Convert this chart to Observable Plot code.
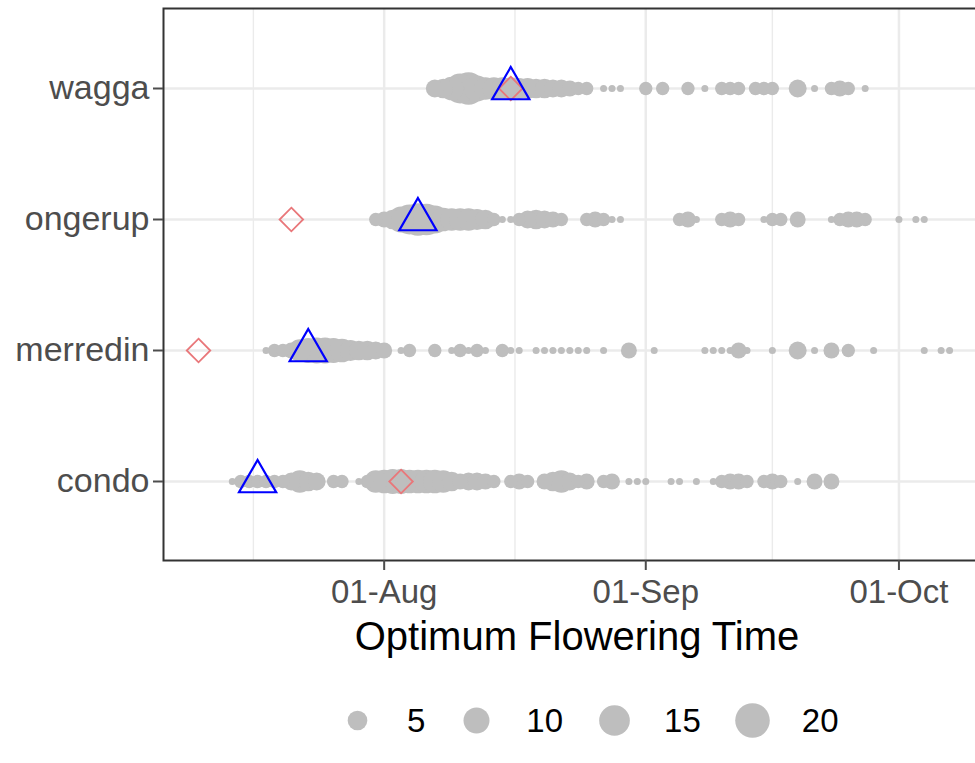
<!DOCTYPE html>
<html><head><meta charset="utf-8">
<script src="https://cdn.jsdelivr.net/npm/d3@7"></script>
<script src="https://cdn.jsdelivr.net/npm/@observablehq/plot@0.6"></script>
<style>
html,body{margin:0;padding:0;background:#fff;overflow:hidden;width:975px;height:763px;}
#chart svg{display:block;overflow:hidden;}
#legend{position:absolute;left:326px;top:689px;display:flex;align-items:center;font-family:"Liberation Sans",Arial,sans-serif;font-size:33px;color:#000;}
#legend .item{display:flex;align-items:center;margin-right:20px}
#legend .item svg{display:block}
#legend .lab{margin-left:19px;line-height:1}
</style></head><body>
<div id="chart"></div><div id="legend"></div>
<script>
const YEAR = 2021;
const sites = ["wagga", "ongerup", "merredin", "condo"];

const waggaDates = ["08-07","08-08","08-09","08-10","08-11","08-12","08-13","08-14","08-15","08-16","08-17","08-18","08-19","08-20","08-21","08-22","08-23","08-24","08-25","08-27","08-28","08-29","09-01","09-03","09-06","09-08","09-10","09-11","09-12","09-14","09-15","09-16","09-19","09-21","09-23","09-24","09-25","09-27"];
const waggaCounts = [4,5,8,14,17,10,7,7,7,7,6,6,5,5,4,4,3,2,2,1,1,1,2,2,2,1,2,2,2,2,2,2,4,1,2,3,2,1];

const ongerupDates = ["07-31","08-01","08-02","08-03","08-04","08-05","08-06","08-07","08-08","08-09","08-10","08-11","08-12","08-13","08-14","08-15","08-16","08-17","08-18","08-19","08-20","08-21","08-22","08-25","08-26","08-27","08-28","08-29","09-05","09-06","09-07","09-10","09-11","09-12","09-15","09-16","09-17","09-19","09-23","09-24","09-25","09-26","09-27","10-01","10-03","10-04"];
const ongerupCounts = [2,3,5,10,14,17,16,12,8,7,7,7,6,5,2,1,1,2,4,5,4,3,2,2,3,2,1,1,2,3,1,2,3,2,1,2,2,3,1,2,3,3,2,1,1,1];

const merredinDates = ["07-18","07-19","07-20","07-21","07-22","07-23","07-24","07-25","07-26","07-27","07-28","07-29","07-30","07-31","08-01","08-03","08-04","08-07","08-09","08-10","08-11","08-12","08-13","08-15","08-16","08-17","08-19","08-20","08-21","08-22","08-23","08-24","08-25","08-27","08-30","09-02","09-08","09-09","09-10","09-11","09-12","09-13","09-16","09-19","09-21","09-23","09-25","09-28","10-04","10-06","10-07"];
const merredinCounts = [1,2,2,3,7,9,10,10,9,8,6,5,5,4,3,1,2,2,1,2,1,2,1,2,1,1,1,1,1,1,1,1,1,1,3,1,1,1,1,1,3,1,1,4,1,3,2,1,1,1,1];

const condoDates = ["07-14","07-15","07-16","07-17","07-18","07-19","07-20","07-21","07-22","07-23","07-24","07-26","07-27","07-29","07-30","07-31","08-01","08-02","08-03","08-04","08-05","08-06","08-07","08-08","08-09","08-10","08-11","08-12","08-13","08-14","08-16","08-17","08-18","08-20","08-21","08-22","08-23","08-24","08-25","08-27","08-28","08-30","08-31","09-01","09-04","09-05","09-07","09-09","09-10","09-11","09-12","09-13","09-15","09-16","09-17","09-19","09-21","09-23"];
const condoCounts = [1,2,2,2,2,2,2,4,7,5,4,2,2,1,2,7,8,9,9,8,8,8,8,7,5,3,4,4,3,2,2,3,2,3,5,7,4,2,3,2,3,1,1,1,1,1,1,1,2,3,3,2,2,3,2,1,3,3];

// open blue triangles and open red diamonds, one per site (same order as sites)
const triangleDates = ["08-16","08-05","07-23","07-17"];
const diamondDates  = ["08-16","07-21","07-10","08-03"];

const monthStarts = ["07-01","08-01","09-01","10-01","11-01"];
const sizeBreaks = [5, 10, 15, 20];
const sizeRange = [1, 22];
const xTitle = "Optimum Flowering Time";

const FONT = '"Liberation Sans", Arial, Helvetica, sans-serif';
const toDate = s => new Date(`${YEAR}-${s}T00:00:00Z`);

const seriesDates = {wagga: waggaDates, ongerup: ongerupDates, merredin: merredinDates, condo: condoDates};
const seriesCounts = {wagga: waggaCounts, ongerup: ongerupCounts, merredin: merredinCounts, condo: condoCounts};
const points = sites.flatMap(site => seriesDates[site].map((d, i) => ({site, date: toDate(d), count: seriesCounts[site][i]})));
const triangles = sites.map((site, i) => ({site, date: toDate(triangleDates[i])}));
const diamonds = sites.map((site, i) => ({site, date: toDate(diamondDates[i])}));

const xStart = new Date(Date.UTC(YEAR, 6, 5, 20, 24));
const xEnd = new Date(Date.UTC(YEAR, 9, 11, 20, 24));
const inDomain = d => d >= xStart && d <= xEnd;
const months = monthStarts.map(toDate);
const majorTicks = months.filter(inDomain);
const minorTicks = d3.pairs(months).map(([a, b]) => new Date((+a + +b) / 2)).filter(inDomain);

const rOpts = {
  type: "linear",
  transform: v => Math.sqrt((v - sizeRange[0]) / (sizeRange[1] - sizeRange[0])),
  domain: [0, 1],
  range: [3.5, 18]
};

const chart = Plot.plot({
  width: 975,
  height: 665,
  marginTop: 8,
  marginBottom: 105,
  marginLeft: 163,
  marginRight: -15,
  style: {fontFamily: FONT, background: "white"},
  x: {type: "utc", domain: [xStart, xEnd]},
  y: {type: "point", domain: sites, padding: 0.6},
  r: rOpts,
  marks: [
    Plot.ruleX(minorTicks, {stroke: "#ebebeb", strokeWidth: 1.4}),
    Plot.ruleX(majorTicks, {stroke: "#ebebeb", strokeWidth: 2.5}),
    Plot.ruleY(sites, {stroke: "#ebebeb", strokeWidth: 2.5}),
    Plot.dot(points, {x: "date", y: "site", r: "count", fill: "#bebebe"}),
    Plot.dot(diamonds, {x: "date", y: "site", symbol: "diamond2", r: 10.6, stroke: "#e9777a", strokeWidth: 1.8, fill: "none"}),
    Plot.dot(triangles, {x: "date", y: "site", symbol: "triangle", r: 13.8, stroke: "blue", strokeWidth: 2.2, fill: "none"}),
    Plot.frame({stroke: "#333333", strokeWidth: 2}),
    Plot.axisY({tickSize: 10, tickPadding: 4, fontSize: 34, color: "#4d4d4d", strokeWidth: 2, label: null}),
    Plot.axisX({ticks: majorTicks, tickFormat: d3.utcFormat("%d-%b"), tickSize: 10, tickPadding: 9, fontSize: 33, color: "#4d4d4d", strokeWidth: 2, label: null}),
    Plot.text([xTitle], {text: d => d, frameAnchor: "bottom", dy: 89, fontSize: 40, fill: "black"})
  ]
});
document.getElementById("chart").appendChild(chart);

const legend = document.getElementById("legend");
for (const v of sizeBreaks) {
  const item = document.createElement("div");
  item.className = "item";
  const key = Plot.plot({
    width: 62, height: 62, margin: 0,
    x: {type: "point", domain: [v], axis: null},
    y: {type: "point", domain: [v], axis: null},
    r: rOpts,
    marks: [Plot.dot([v], {x: d => d, y: d => d, r: d => d, fill: "#bebebe"})]
  });
  item.appendChild(key);
  const lab = document.createElement("span");
  lab.className = "lab";
  lab.textContent = String(v);
  item.appendChild(lab);
  legend.appendChild(item);
}
</script>
</body></html>
